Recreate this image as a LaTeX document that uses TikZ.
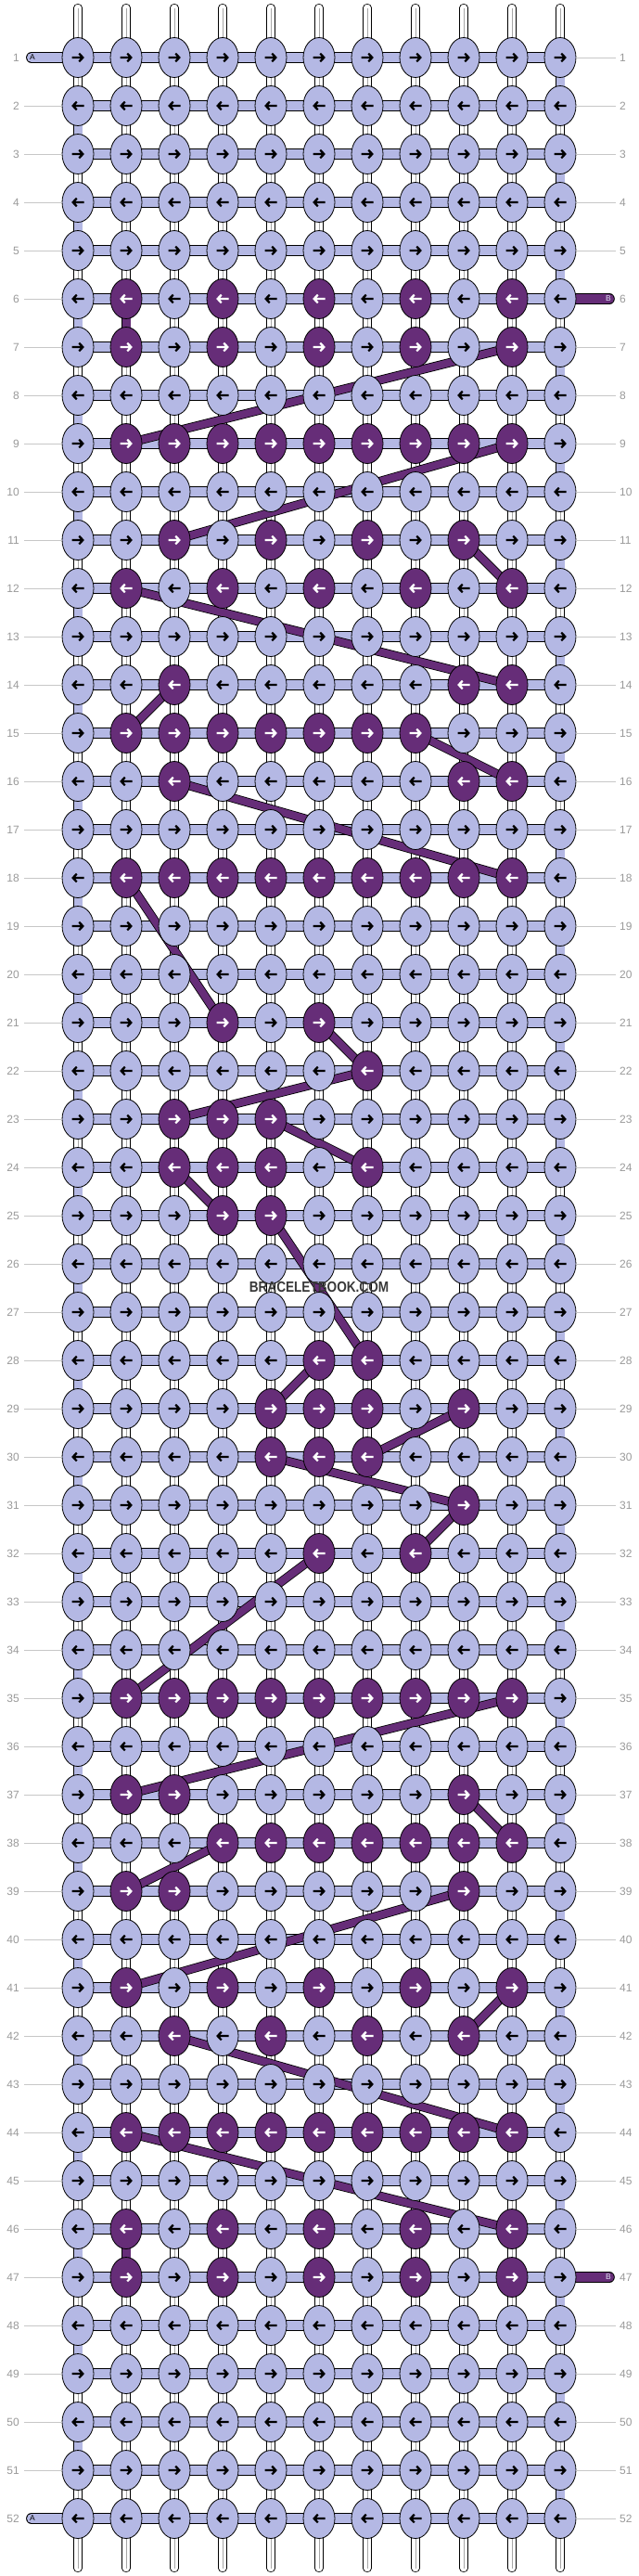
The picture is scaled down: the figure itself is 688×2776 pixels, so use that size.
\documentclass[tikz,border=0pt]{standalone}
\usepackage{fontspec}
\setmainfont{Liberation Sans}
\usetikzlibrary{shapes.geometric}
\definecolor{lilac}{RGB}{180, 184, 228}
\definecolor{plum}{RGB}{102, 45, 120}
\definecolor{numgray}{gray}{0.6}
\definecolor{linegray}{gray}{0.78}
\definecolor{markgray}{gray}{0.22}

\begin{document}
\begin{tikzpicture}[x=1pt, y=-1pt,
  knot/.style={ellipse, draw=black, line width=0.8pt, minimum width=34pt, minimum height=43pt, inner sep=0pt},
  strand/.style={draw=black, line width=0.8pt, double=white, double distance=7.6pt},
  core/.style={draw=gray!70, line width=0.9pt},
  barA/.style={draw=black, line width=0.9pt, double=lilac, double distance=10pt},
  turnA/.style={draw=black, line width=0.9pt, double=lilac, double distance=9pt},
  threadB/.style={draw=black, line width=0.8pt, double=plum, double distance=8pt},
  rownum/.style={text=numgray, font=\fontsize{12}{12}\selectfont, inner sep=0pt},
  guide/.style={draw=linegray, line width=0.8pt},
  pics/knotarrow/.style={code={\draw[line width=2.2pt, color=#1] (-6.5,0) -- (4.5,0) (1.2,-4.4) -- (5.4,0) -- (1.2,4.4);}}]

  \useasboundingbox (0,0) rectangle (688,2776);

  % Grid
  \foreach \r in {1,...,52}
    \foreach \c in {1,...,11}
      \coordinate (p\r-\c) at ({84+52*(\c-1)}, {62+52*(\r-1)});
  \foreach \c in {1,...,11} {
    \coordinate (t\c) at ({84+52*(\c-1)}, 8.5);
    \coordinate (b\c) at ({84+52*(\c-1)}, 2767.5);
  }

  % Strands
  \foreach \c in {1,...,11} {
    \draw[strand, line cap=round] (t\c) -- (p1-\c);
    \draw[strand, line cap=round] (b\c) -- (p52-\c);
    \draw[core] (t\c) -- (p1-\c);
    \draw[core] (b\c) -- (p52-\c);
  }
  \foreach \r [count=\s from 2] in {1,...,51}
    \foreach \c in {1,...,11} {
      \draw[strand] (p\r-\c) -- (p\s-\c);
      \draw[core] (p\r-\c) -- (p\s-\c);
    }

  % Thread A turns at the edges
  \foreach \r [evaluate=\r as \s using int(\r+1)] in {2,4,...,50}
    \draw[turnA] (p\r-1) -- (p\s-1);
  \foreach \r [evaluate=\r as \s using int(\r+1)] in {1,3,...,51}
    \draw[turnA] (p\r-11) -- (p\s-11);

  % Thread B going down
  \draw[threadB, double distance=9pt] (p6-2) -- (p7-2);
  \draw[threadB, double distance=9pt] (p46-2) -- (p47-2);

  % Rows of thread A
  \foreach \r in {1,...,52}
    \foreach \c [count=\cn from 2] in {1,...,10}
      \draw[barA] (p\r-\c) -- (p\r-\cn);

  % Loose ends
  \coordinate (a1) at (34, 62);
  \coordinate (a52) at (34, 2714);
  \coordinate (b6) at (657, 322);
  \coordinate (b47) at (657, 2454);
  \draw[barA, line cap=round] (p1-1) -- (a1);
  \draw[barA, line cap=round] (p52-1) -- (a52);
  \draw[threadB, double distance=10pt, line cap=round] (p6-11) -- (b6);
  \draw[threadB, double distance=10pt, line cap=round] (p47-11) -- (b47);
  \node[font=\fontsize{8.5}{8.5}\selectfont, inner sep=0pt] (endA1) at (35, 62) {A};
  \node[font=\fontsize{8.5}{8.5}\selectfont, inner sep=0pt] (endA52) at (35, 2714) {A};
  \node[font=\fontsize{8.5}{8.5}\selectfont, inner sep=0pt, text=lilac!40] (endB6) at (656, 322) {B};
  \node[font=\fontsize{8.5}{8.5}\selectfont, inner sep=0pt, text=lilac!40] (endB47) at (656, 2454) {B};

  % Thread B behind the knots
  \foreach \ra/\ca/\rb/\cb in {7/10/9/2, 9/10/11/3, 11/9/12/10, 12/2/14/10, 15/2/14/3,
      15/8/16/10, 16/3/18/10, 18/2/21/4, 21/6/22/7, 22/7/23/3, 23/5/24/7, 24/3/25/4,
      25/5/28/7, 28/6/29/5, 29/9/30/7, 30/5/31/9, 31/9/32/8, 32/6/35/2, 35/10/37/2,
      37/9/38/10, 38/4/39/2, 39/9/41/2, 41/10/42/9, 42/3/44/10, 44/2/46/10}
    \draw[threadB] (p\ra-\ca) -- (p\rb-\cb);

  % Dark knots
  \foreach \r/\cs in {6/{2,4,6,8,10}, 7/{2,4,6,8,10}, 9/{2,3,4,5,6,7,8,9,10},
      11/{3,5,7,9}, 12/{2,4,6,8,10}, 14/{3,9,10}, 15/{2,3,4,5,6,7,8}, 16/{3,9,10},
      18/{2,3,4,5,6,7,8,9,10}, 21/{4,6}, 22/{7}, 23/{3,4,5}, 24/{3,4,5,7}, 25/{4,5},
      28/{6,7}, 29/{5,6,7,9}, 30/{5,6,7}, 31/{9}, 32/{6,8}, 35/{2,3,4,5,6,7,8,9,10},
      37/{2,3,9}, 38/{4,5,6,7,8,9,10}, 39/{2,3,9}, 41/{2,4,6,8,10}, 42/{3,5,7,9},
      44/{2,3,4,5,6,7,8,9,10}, 46/{2,4,6,8,10}, 47/{2,4,6,8,10}}
    \foreach \c in \cs
      \expandafter\gdef\csname dk\r-\c\endcsname{};

  % Knots
  \foreach \r in {1,...,52}
    \foreach \c in {1,...,11} {
      \ifcsname dk\r-\c\endcsname
        \def\kfill{plum}\def\kink{white}
      \else
        \def\kfill{lilac}\def\kink{black}
      \fi
      \pgfmathtruncatemacro\dir{isodd(\r) ? 1 : -1}
      \node[knot, fill=\kfill] (k\r-\c) at (p\r-\c) {};
      \pic[xscale=\dir] at (k\r-\c.center) {knotarrow=\kink};
    }

  % Row numbers
  \foreach \r in {1,...,52} {
    \node[rownum, anchor=east] (ln\r) at (21, {62+52*(\r-1)}) {\r};
    \node[rownum, anchor=west] (rn\r) at (668, {62+52*(\r-1)}) {\r};
  }
  \foreach \r in {2,...,51}
    \draw[guide, shorten <=5pt] (ln\r.east) -- (k\r-1.west);
  \foreach \r in {1,...,5,7,8,...,46,48,49,...,52}
    \draw[guide, shorten <=4pt] (rn\r.west) -- (k\r-11.east);

  % Watermark
  \node[text=markgray, font=\bfseries\fontsize{16}{16}\selectfont, inner sep=0pt] (mark) at (344, 1387)
    {\scalebox{0.85}[1]{BRACELETBOOK.COM}};
\end{tikzpicture}
\end{document}
